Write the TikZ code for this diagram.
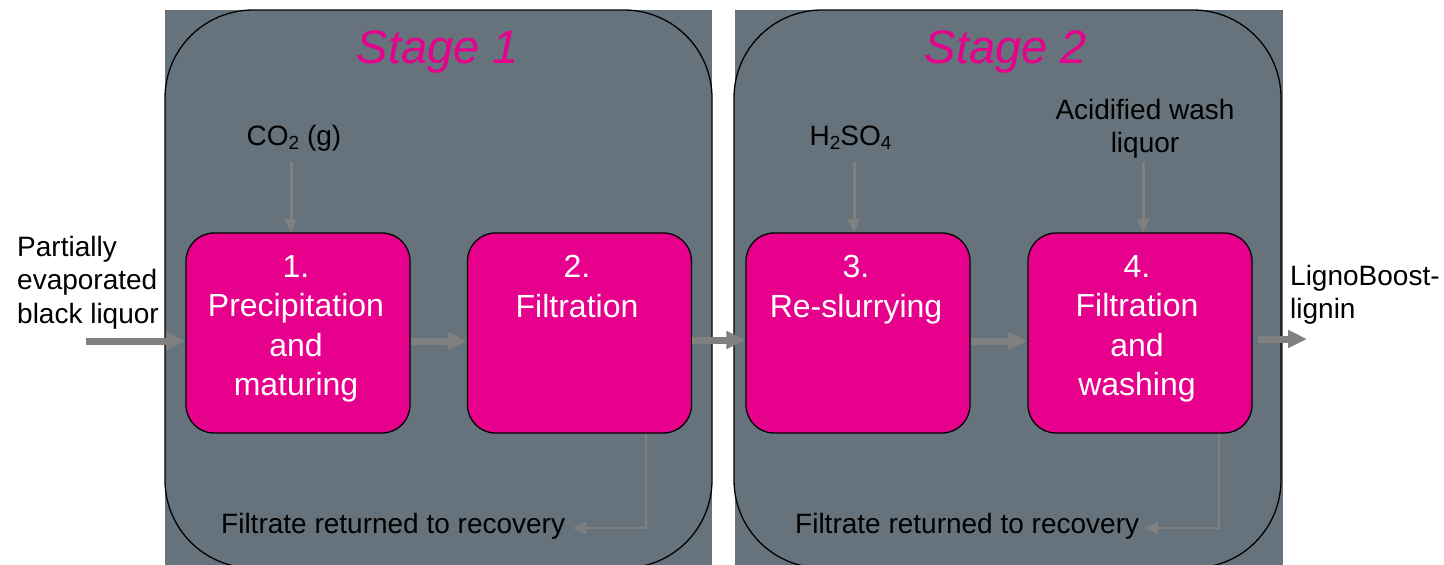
\documentclass[tikz,border=0pt]{standalone}
\usepackage{fontspec}
\setmainfont{Liberation Sans}
\usetikzlibrary{arrows.meta}
\definecolor{panelgray}{RGB}{102,115,124}
\definecolor{boxpink}{RGB}{230,0,140}
\definecolor{arrowgray}{RGB}{128,128,128}
\definecolor{stagepink}{RGB}{230,0,140}
\newcommand{\lowsub}[1]{\raisebox{-0.3ex}{\fontsize{19}{19}\selectfont #1}}
\tikzset{
  panel/.style={fill=panelgray, draw=none},
  paneloutline/.style={draw=black, line width=1.3pt, rounded corners=88pt},
  pbox/.style={draw=black, line width=1.3pt, fill=boxpink, rounded corners=28pt,
    minimum width=224pt, minimum height=200pt, inner sep=0pt},
  boxtext/.style={text=white, align=center, inner sep=0pt, anchor=north,
    font=\fontsize{32}{39.5}\selectfont},
  stagetitle/.style={text=stagepink, inner sep=0pt, anchor=base,
    font=\fontsize{47}{56}\selectfont\itshape},
  label/.style={text=black, inner sep=0pt, font=\fontsize{28}{33.5}\selectfont},
  bigarrow/.style={draw=arrowgray, line width=7pt, -{Triangle[width=17pt,length=19pt]}},
  thinarrow/.style={draw=arrowgray, line width=3pt, -{Triangle[width=12pt,length=13pt]}},
  retarrow/.style={draw=arrowgray, line width=2.5pt, -{Triangle[width=12pt,length=13pt]}},
}
\begin{document}
\begin{tikzpicture}[x=1pt,y=-1pt]
\useasboundingbox[fill=white] (0,0) rectangle (1444,565);
% panels
\fill[panel] (165,10) rectangle (712,565);
\fill[panel] (735,10) rectangle (1283,565);
\begin{scope}
\clip (0,0) rectangle (1444,565);
\draw[paneloutline, fill=panelgray] (165,10) rectangle (712,568);
\draw[paneloutline, fill=panelgray] (734,10) rectangle (1281,568);
\end{scope}
% titles
\node[stagetitle] (st1) at (438,63) {Stage 1};
\node[stagetitle] (st2) at (1006,63) {Stage 2};
% boxes
\node[pbox] (b1) at (298,333) {};
\node[pbox] (b2) at (579.5,333) {};
\node[pbox] (b3) at (858,333) {};
\node[pbox] (b4) at (1140,333) {};
\node[boxtext] (t1) at (296,255) {1.\\Precipitation\\and\\maturing};
\node[boxtext] (t2) at (577,255) {2.\\Filtration};
\node[boxtext] (t3) at (856,255) {3.\\Re-slurrying};
\node[boxtext] (t4) at (1137,255) {4.\\Filtration\\and\\washing};
% labels
\node[label, anchor=base] (co2) at (294,145) {CO\lowsub{2} (g)};
\node[label, anchor=base] (h2so4) at (850.5,145) {H\lowsub{2}SO\lowsub{4}};
\node[label, anchor=north, align=center] (acid) at (1145,99) {Acidified wash\\liquor};
\node[label, anchor=north west, align=left] (feed) at (17,236) {Partially\\evaporated\\black liquor};
\node[label, anchor=north west, align=left] (prod) at (1290,265) {LignoBoost-\\lignin};
\node[label, anchor=base west] (fr1) at (221,533) {Filtrate returned to recovery};
\node[label, anchor=base west] (fr2) at (795,533) {Filtrate returned to recovery};
% coordinates
\coordinate (inL) at (86,341);
\coordinate (mid23) at (695,340);
\coordinate (outT) at (1307,339);
\coordinate (co2s) at (291,162);
\coordinate (h2s) at (854,162);
\coordinate (acs) at (1143,162);
\coordinate (f1c) at (646,528);
\coordinate (f1t) at (573,528);
\coordinate (f2c) at (1219,528);
\coordinate (f2t) at (1145,528);
% main flow arrows
\draw[bigarrow] (inL) -- (inL -| b1.west);
\draw[bigarrow] (b1.east |- inL) -- (b2.west |- inL);
\draw[bigarrow] (b2.east |- mid23) -- (b3.west |- mid23);
\draw[bigarrow] (b3.east |- inL) -- (b4.west |- inL);
\draw[bigarrow] ([xshift=5pt]b4.east |- outT) -- (outT);
% feed arrows
\draw[thinarrow] (co2s) -- (co2s |- b1.north);
\draw[thinarrow] (h2s) -- (h2s |- b3.north);
\draw[thinarrow] (acs) -- (acs |- b4.north);
% filtrate arrows
\draw[retarrow] (b2.south -| f1c) -- (f1c) -- (f1t);
\draw[retarrow] (b4.south -| f2c) -- (f2c) -- (f2t);
\end{tikzpicture}
\end{document}
